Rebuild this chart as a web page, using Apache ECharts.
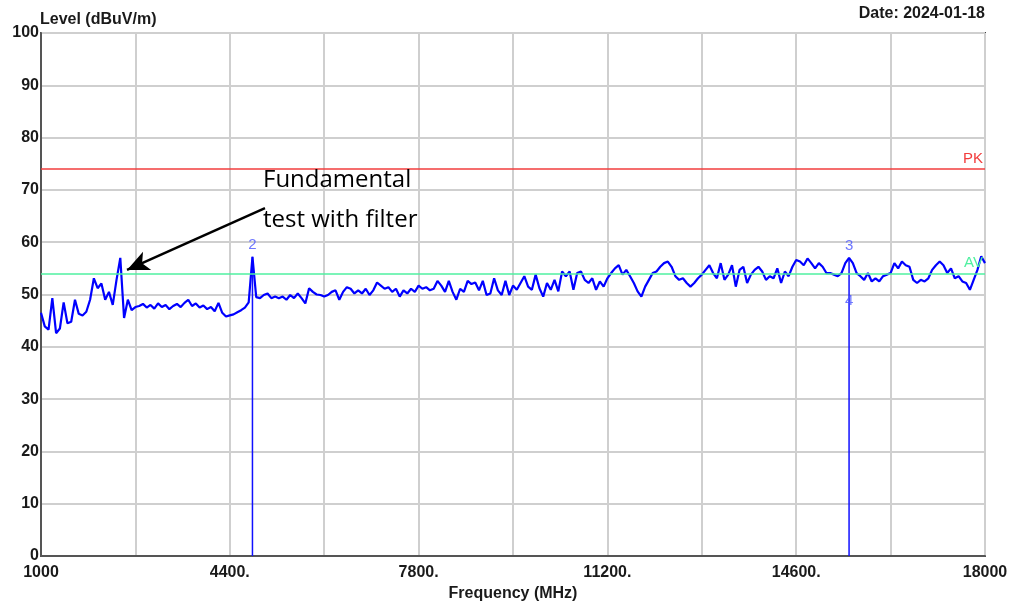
<!DOCTYPE html>
<html>
<head>
<meta charset="utf-8">
<script src="https://cdn.jsdelivr.net/npm/echarts@6/dist/echarts.min.js"></script>
<style>
html,body{margin:0;padding:0;background:#fff;overflow:hidden;}
#chart{width:1015px;height:601px;}
</style>
</head>
<body>
<div id="chart"></div>
<script>
// ---- data ----
const sweepStart = 1000;      // MHz
const sweepStep = 68;         // MHz between trace samples
const levels = [
 46.5,43.9,43.3,49.3,42.6,43.5,48.5,44.5,44.8,49.0,46.3,46.0,46.7,49.0,53.1,51.2,52.1,49.0,50.5,48.0,52.8,57.0,45.5,49.0,47.0,47.6,
 47.8,48.2,47.5,48.0,47.3,48.3,47.6,48.0,47.2,47.8,48.2,47.6,48.4,49.0,47.8,48.3,47.5,47.9,47.2,47.6,46.8,48.4,46.5,45.8,46.0,
 46.2,46.6,47.0,47.5,48.5,57.2,49.5,49.3,49.9,50.2,49.3,49.6,49.3,49.6,49.0,49.9,49.3,50.2,49.3,48.3,51.2,50.5,50.0,49.9,49.6,
 49.9,50.5,50.8,49.0,50.5,51.4,51.1,50.2,50.8,50.2,51.1,49.9,50.8,52.3,51.7,51.1,51.4,50.5,51.1,49.6,50.8,50.2,51.1,50.5,51.7,
 51.1,51.4,50.8,51.1,52.6,51.7,50.5,52.6,50.5,49.0,51.1,50.5,52.6,52.0,52.3,50.8,52.6,49.9,50.2,53.1,50.8,49.9,52.6,49.9,51.7,
 50.9,52.2,53.5,51.5,50.9,53.8,51.2,49.6,52.2,50.9,52.8,50.6,54.4,53.5,54.4,50.9,54.1,54.4,52.8,52.2,53.1,50.9,52.5,51.5,53.1,
 54.1,55.0,55.6,53.8,54.7,53.5,52.2,50.6,49.6,51.5,52.8,54.1,54.4,55.3,56.0,56.3,55.3,53.5,52.8,53.1,52.2,51.5,52.2,53.1,53.8,
 54.7,55.6,54.1,53.1,56.0,52.8,53.8,55.6,51.5,54.7,55.3,52.2,53.8,54.7,55.3,54.4,52.8,53.5,53.1,55.0,52.2,54.4,53.5,55.3,56.6,
 56.3,55.6,56.9,56.0,55.0,56.0,55.3,54.1,54.1,53.8,53.5,54.1,56.0,57.0,56.0,54.1,53.5,52.8,54.1,52.5,53.1,52.5,53.5,53.8,54.1,
 56.0,55.0,56.3,55.6,55.3,52.8,52.2,52.8,52.5,53.1,54.7,55.6,56.3,55.6,54.1,55.0,53.1,53.5,52.5,52.2,50.9,52.8,54.7,57.3,56.0
];
const markerIds    = ['2', '3', '4'];
const markerFreqs  = [4808, 15552, 15552];
const markerLevels = [57.2, 57.0, 51.0];
const markerLabelSide = ['top', 'top', 'bottom'];
const markerLines = [[4808, 57.2], [15552, 57.0]];   // freq, level of marker stems
const limitNames  = ['PK', 'AV'];
const limitLevels = [74, 54];
const xTickValues = [1000, 4400, 7800, 11200, 14600, 18000];
const xTickLabels = ['1000', '4400.', '7800.', '11200.', '14600.', '18000'];
const annotationText = ['Fundamental', 'test with filter'];
const arrowFrom = [5034, 66.5];
const arrowTo   = [2549, 54.7];

// ---- build ----
const trace = levels.map((v, i) => [sweepStart + i * sweepStep, v]);
const xLabelMap = {};
xTickValues.forEach((v, i) => { xLabelMap[v] = xTickLabels[i]; });
const limitColors = ['#f23c3c', '#4ff0a0'];
const FONT = 'Liberation Sans, Arial, sans-serif';

const series = [];
series.push({
  type: 'line', name: 'trace', symbol: 'none', z: 4,
  data: trace,
  lineStyle: { color: '#0000ff', width: 2.2 },
  markLine: {
    silent: true, symbol: ['none', 'none'], animation: false,
    label: { show: false },
    data: [
      ...limitLevels.map((lv, i) => ({
        yAxis: lv,
        lineStyle: { color: limitColors[i], width: 1.5, type: 'solid' },
        label: { show: true, formatter: limitNames[i], position: 'insideEndTop', distance: [2, 3],
                 color: limitColors[i], fontSize: 15, fontFamily: FONT }
      })),
      [
        { coord: arrowFrom, symbol: 'none', lineStyle: { color: '#000', width: 2.5, type: 'solid' } },
        { coord: arrowTo, symbol: 'arrow', symbolSize: [15, 22] }
      ]
    ]
  }
});
markerLines.forEach(m => {
  series.push({
    type: 'line', silent: true, symbol: 'none', z: 3,
    data: [[m[0], 0], [m[0], m[1]]],
    lineStyle: { color: '#1010ff', width: 1.5 }
  });
});
series.push({
  type: 'scatter', silent: true, symbolSize: 1, z: 5,
  itemStyle: { color: 'rgba(0,0,0,0)' },
  data: markerFreqs.map((f, i) => ({
    value: [f, markerLevels[i]],
    label: { show: true, formatter: markerIds[i], position: markerLabelSide[i], distance: 4,
             color: '#4a55ff', fontSize: 15, fontFamily: FONT }
  }))
});

const chart = echarts.init(document.getElementById('chart'), null, { renderer: 'canvas' });
chart.setOption({
  animation: false,
  backgroundColor: '#ffffff',
  title: [
    { text: 'Level (dBuV/m)', left: 40, top: 12, padding: 0,
      textStyle: { fontSize: 16, fontWeight: 'bold', color: '#1a1a1a', fontFamily: FONT } },
    { text: 'Date: 2024-01-18', right: 30, top: 6, padding: 0,
      textStyle: { fontSize: 16, fontWeight: 'bold', color: '#1a1a1a', fontFamily: FONT } }
  ],
  graphic: [{
    type: 'text', left: 263, top: 160, z: 10,
    style: { text: annotationText.join('\n'), fontSize: 24, lineHeight: 40,
             fontFamily: 'Open Sans, Noto Sans, sans-serif', fill: '#000' }
  }],
  grid: { left: 41, right: 30, top: 33, bottom: 45, show: true, outerBoundsMode: 'none', containLabel: false,
          borderColor: '#444', borderWidth: 2, backgroundColor: 'transparent' },
  xAxis: {
    type: 'value', min: 1000, max: 18000, interval: 1700,
    name: 'Frequency (MHz)', nameLocation: 'middle', nameGap: 21,
    nameTextStyle: { fontSize: 16, fontWeight: 'bold', color: '#1a1a1a', fontFamily: FONT },
    axisLine: { show: true, lineStyle: { color: '#555', width: 2 } },
    axisTick: { show: false },
    axisLabel: { margin: 9, fontSize: 16, fontWeight: 'bold', color: '#1a1a1a', fontFamily: FONT,
                 showMinLabel: true, showMaxLabel: true, hideOverlap: false,
                 formatter: v => (xLabelMap[v] !== undefined ? xLabelMap[v] : '') },
    splitLine: { show: true, lineStyle: { color: '#cfcfcf', width: 2 } }
  },
  yAxis: {
    type: 'value', min: 0, max: 100, interval: 10,
    axisLine: { show: true, lineStyle: { color: '#555', width: 2 } },
    axisTick: { show: false },
    axisLabel: { margin: 2, fontSize: 16, fontWeight: 'bold', color: '#1a1a1a', fontFamily: FONT },
    splitLine: { show: true, lineStyle: { color: '#cfcfcf', width: 2 } }
  },
  series: series
});
</script>
</body>
</html>
